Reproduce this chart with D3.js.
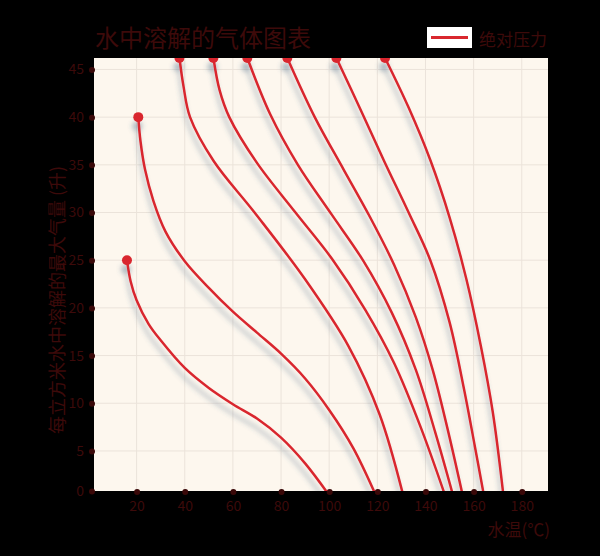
<!DOCTYPE html>
<html><head><meta charset="utf-8">
<script src="https://cdn.jsdelivr.net/npm/d3@7/dist/d3.min.js"></script>
<style>html,body{margin:0;padding:0;background:#000;}svg{display:block;}</style>
</head><body>
<svg id="c" width="600" height="556"></svg>
<script>
const title = "水中溶解的气体图表";
const legendLabel = "绝对压力";
const xAxisName = "水温(℃)";
const yAxisName = "每立方米水中溶解的最大气量 (升)";
const xTicks = [20, 40, 60, 80, 100, 120, 140, 160, 180];
const yTicks = [0, 5, 10, 15, 20, 25, 30, 35, 40, 45];
const xDomain = [2.3, 190.9];
const yDomain = [0.8, 46.2];

const curve1 = [[16,25],[17.5,22.8],[20,20.8],[25,18.3],[30,16.6],[40,13.7],[50,11.6],[60,9.9],[70,8.4],[80,6.4],[90,3.7],[101,0]];
const curve2 = [[20.7,40],[21.6,37.5],[23.5,34.5],[27,31.2],[32,28],[40,24.9],[50,22.1],[60,19.6],[70,17.4],[80,15.2],[90,12.6],[100,9.3],[110,5.3],[120,0]];
const curve3 = [[37.8,46.2],[39.5,43.2],[42.2,40],[52,35.4],[69,30],[90,23],[108,16],[121,8.8],[130.8,0.3]];
const curve4 = [[51.9,46.2],[54.5,42.8],[58.5,40],[70,35.2],[86,30],[101,25.2],[115,19.8],[127,14.2],[138,7.5],[148.2,0.3]];
const curve5 = [[66,46.2],[75.5,40.3],[87,35],[101,29.8],[114,25],[126,19.5],[136,13.5],[144,7],[151.5,0.3]];
const curve6 = [[82.6,46.2],[94,40],[106,34.5],[117,29.5],[127,24.5],[136,19],[143,13.5],[149,7.5],[155.5,0.3]];
const curve7 = [[103,46.2],[113,40.8],[123,35.3],[133,30],[142,25],[150,18.5],[156,11.5],[160.5,5.5],[164.3,0.3]];
const curve8 = [[123.2,46.2],[133,41],[142,35.5],[150,29.5],[157,23],[163,16],[168,9],[172.4,0.3]];
const series = [curve1, curve2, curve3, curve4, curve5, curve6, curve7, curve8];

const plot = {l: 94, r: 548, t: 58, b: 491};
const textColor = "#3d0a0a";
const lineColor = "#d9272e";
const font = "'Noto Sans CJK SC', 'Noto Sans', sans-serif";

const svg = d3.select("#c");
const defs = svg.append("defs");
const f = defs.append("filter").attr("id","sh").attr("x","-20%").attr("y","-20%").attr("width","140%").attr("height","140%");
f.append("feDropShadow").attr("dx",-1).attr("dy",9).attr("stdDeviation",2.8)
  .attr("flood-color","#3c6080").attr("flood-opacity",0.4);
defs.append("clipPath").attr("id","clip").append("rect")
  .attr("x",plot.l).attr("y",plot.t).attr("width",plot.r-plot.l).attr("height",plot.b-plot.t);

const x = d3.scaleLinear().domain(xDomain).range([plot.l, plot.r]);
const y = d3.scaleLinear().domain(yDomain).range([plot.b, plot.t]);

svg.append("rect").attr("x",plot.l).attr("y",plot.t).attr("width",plot.r-plot.l).attr("height",plot.b-plot.t)
  .attr("fill","#fdf7ee");

const g = svg.append("g");
g.selectAll(".vg").data(xTicks).join("line")
  .attr("x1",d=>x(d)).attr("x2",d=>x(d)).attr("y1",plot.t).attr("y2",plot.b)
  .attr("stroke","#ebe3da").attr("stroke-width",1);
g.selectAll(".hg").data(yTicks.slice(1)).join("line")
  .attr("y1",d=>y(d)).attr("y2",d=>y(d)).attr("x1",plot.l).attr("x2",plot.r)
  .attr("stroke","#ebe3da").attr("stroke-width",1);

const yTickVals = yTicks.map(v => v === 0 ? yDomain[0] : v);
const xAxis = d3.axisBottom(x).tickValues(xTicks).tickSize(0).tickPadding(9).tickFormat(d=>String(d));
const yAxis = d3.axisLeft(y).tickValues(yTickVals).tickSize(0).tickPadding(9).tickFormat((d,i)=>String(yTicks[i]));
const gx = svg.append("g").attr("transform",`translate(0,${plot.b+1})`).call(xAxis);
const gy = svg.append("g").attr("transform",`translate(${plot.l-1},0)`).call(yAxis);
[gx, gy].forEach(a => {
  a.select(".domain").attr("stroke","#000");
  a.selectAll("text").attr("fill",textColor).style("font-family",font).style("font-size","14px");
  a.selectAll(".tick").append("circle").attr("r",3).attr("fill","#3a0808");
});
gy.selectAll(".tick circle").attr("cx",-1);

const line = d3.line().x(d=>x(d[0])).y(d=>y(d[1])).curve(d3.curveCatmullRom.alpha(0.5));
const lg = svg.append("g").attr("clip-path","url(#clip)");
const sg = lg.append("g").attr("filter","url(#sh)");
sg.selectAll("path").data(series).join("path")
  .attr("d",line).attr("fill","none").attr("stroke",lineColor).attr("stroke-width",2.5);
sg.selectAll("circle").data(series).join("circle")
  .attr("cx",d=>x(d[0][0])).attr("cy",d=>y(d[0][1])).attr("r",5).attr("fill",lineColor);

svg.append("text").attr("x",95).attr("y",36).attr("dominant-baseline","central")
  .attr("fill",textColor).style("font-family",font).style("font-size","24px").text(title);

svg.append("rect").attr("x",427).attr("y",27).attr("width",45).attr("height",21).attr("fill","#fff");
svg.append("line").attr("x1",431).attr("x2",468).attr("y1",37.5).attr("y2",37.5)
  .attr("stroke",lineColor).attr("stroke-width",3);
svg.append("text").attr("x",479).attr("y",38).attr("dominant-baseline","central")
  .attr("fill",textColor).style("font-family",font).style("font-size","17px").text(legendLabel);

svg.append("text").attr("x",550).attr("y",528).attr("text-anchor","end").attr("dominant-baseline","central")
  .attr("fill",textColor).style("font-family",font).style("font-size","17px").text(xAxisName);
svg.append("text").attr("transform","translate(56,300) rotate(-90)").attr("text-anchor","middle")
  .attr("dominant-baseline","central")
  .attr("fill",textColor).style("font-family",font).style("font-size","18px").text(yAxisName);
</script>
</body></html>
